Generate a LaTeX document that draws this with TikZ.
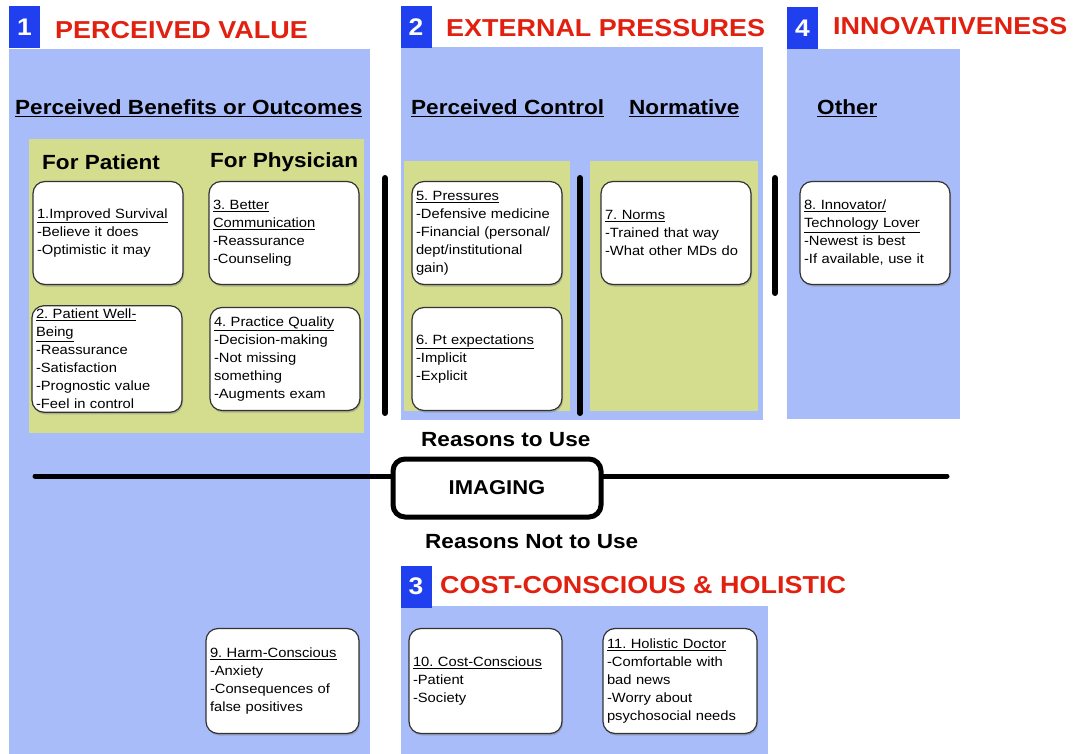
\documentclass[tikz,border=0pt]{standalone}
\usepackage{fontspec}
\setmainfont[FakeStretch=1.1]{Liberation Sans}
\usetikzlibrary{positioning,shadows}

\definecolor{panelblue}{RGB}{168,188,250}
\definecolor{numblue}{RGB}{32,64,240}
\definecolor{titlered}{RGB}{226,32,16}
\definecolor{areagreen}{RGB}{212,220,142}

\begin{document}
\frenchspacing
\begin{tikzpicture}[x=1pt,y=-1pt,
    numbox/.style={fill=numblue, text=white, font=\fontsize{24}{28}\selectfont\bfseries,
      minimum width=31pt, minimum height=42pt, inner sep=0pt},
    title/.style={text=titlered, font=\fontsize{24.5}{28}\selectfont\bfseries,
      anchor=west, inner sep=0pt},
    head/.style={font=\fontsize{20.5}{24}\selectfont\bfseries, anchor=west, inner sep=0pt},
    card/.style={draw=black!80, line width=1.2pt, fill=white, rounded corners=12pt,
      drop shadow={shadow xshift=1pt, shadow yshift=-2pt, opacity=0.45},
      minimum width=150pt, minimum height=103pt, text width=142pt, align=left,
      inner xsep=4pt, font=\fontsize{13.4}{18}\selectfont},
    bar/.style={line width=6pt, line cap=round},
    ]
  \useasboundingbox (0,0) rectangle (1079,754);

  % blue panels
  \fill[panelblue] (9,49) rectangle (370,754);
  \fill[panelblue] (401,47) rectangle (763,420);
  \fill[panelblue] (787,49) rectangle (960,419);
  \fill[panelblue] (401,606) rectangle (768,754);
  % green areas
  \fill[areagreen] (29,139) rectangle (364,433);
  \fill[areagreen] (404,161) rectangle (570,411);
  \fill[areagreen] (590,161) rectangle (758,411);

  % titles
  \node[numbox] (n1) at (24.5,27) {1};
  \node[title] (t1) at (55,30) {PERCEIVED VALUE};
  \node[numbox] (n2) at (416,27.5) {2};
  \node[title] (t2) at (446,28) {EXTERNAL PRESSURES};
  \node[numbox] (n4) at (802.5,28.5) {4};
  \node[title] (t4) at (833,26) {INNOVATIVENESS};
  \node[numbox] (n3) at (416,586.5) {3};
  \node[title] (t3) at (440,585) {COST-CONSCIOUS \& HOLISTIC};

  % headings
  \node[head] (hBen) at (15,108) {\underline{Perceived Benefits or Outcomes}};
  \node[head] (hCtl) at (411,108) {\underline{Perceived Control}};
  \node[head] (hNorm) at (629,108) {\underline{Normative}};
  \node[head] (hOth) at (817,108) {\underline{Other}};
  \node[head] (hPat) at (42,162) {For Patient};
  \node[head] (hPhy) at (210,162) {For Physician};

  % separators
  \coordinate (s1a) at (385,178); \coordinate (s1b) at (385,413);
  \coordinate (s2a) at (580,178); \coordinate (s2b) at (580,413);
  \coordinate (s3a) at (775,178); \coordinate (s3b) at (775,293);
  \draw[bar] (s1a) -- (s1b);
  \draw[bar] (s2a) -- (s2b);
  \draw[bar] (s3a) -- (s3b);

  % cards
  \node[card] (b1) at (108,233) {\underline{1.Improved Survival}\\-Believe it does\\-Optimistic it may};
  \node[card] (b3) at (284,233) {\underline{3. Better}\\\underline{Communication}\\-Reassurance\\-Counseling};
  \node[card] (b2) at (107,359) {\underline{2. Patient Well-}\\\underline{Being}\\-Reassurance\\-Satisfaction\\-Prognostic value\\-Feel in control};
  \node[card] (b4) at (285,359) {\underline{4. Practice Quality}\\-Decision-making\\-Not missing\\something\\-Augments exam};
  \node[card] (b5) at (487,233) {\underline{5. Pressures}\\-Defensive medicine\\-Financial (personal/\\dept/institutional\\gain)};
  \node[card] (b6) at (487,359) {\underline{6. Pt expectations}\\-Implicit\\-Explicit};
  \node[card] (b7) at (676,233) {\underline{7. Norms}\\-Trained that way\\-What other MDs do};
  \node[card] (b8) at (875,233) {\underline{8. Innovator/}\\\underline{Technology Lover}\\-Newest is best\\-If available, use it};
  \node[card, minimum width=153pt, minimum height=105pt, text width=145pt] (b9) at (282.5,681) {\underline{9. Harm-Conscious}\\-Anxiety\\-Consequences of\\false positives};
  \node[card, minimum width=153pt, minimum height=105pt, text width=145pt] (b10) at (485.5,681) {\underline{10. Cost-Conscious}\\-Patient\\-Society};
  \node[card, minimum width=154pt, minimum height=105pt, text width=146pt] (b11) at (680,681) {\underline{11. Holistic Doctor}\\-Comfortable with\\bad news\\-Worry about\\psychosocial needs};

  % imaging axis
  \coordinate (axL) at (35,476);
  \coordinate (axR) at (947,476);
  \node[draw, line width=5pt, fill=white, rounded corners=12pt,
    drop shadow={shadow xshift=1pt, shadow yshift=-2pt, opacity=0.45},
    minimum width=208pt, minimum height=58pt,
    font=\fontsize{20}{24}\selectfont\bfseries] (img) at (497,488) {IMAGING};
  \draw[line width=5pt, line cap=round] (axL) -- (axL -| img.west);
  \draw[line width=5pt, line cap=round] (axR -| img.east) -- (axR);
  \node[head] (use) at (421,440) {Reasons to Use};
  \node[head] (nouse) at (425,542) {Reasons Not to Use};
\end{tikzpicture}
\end{document}
